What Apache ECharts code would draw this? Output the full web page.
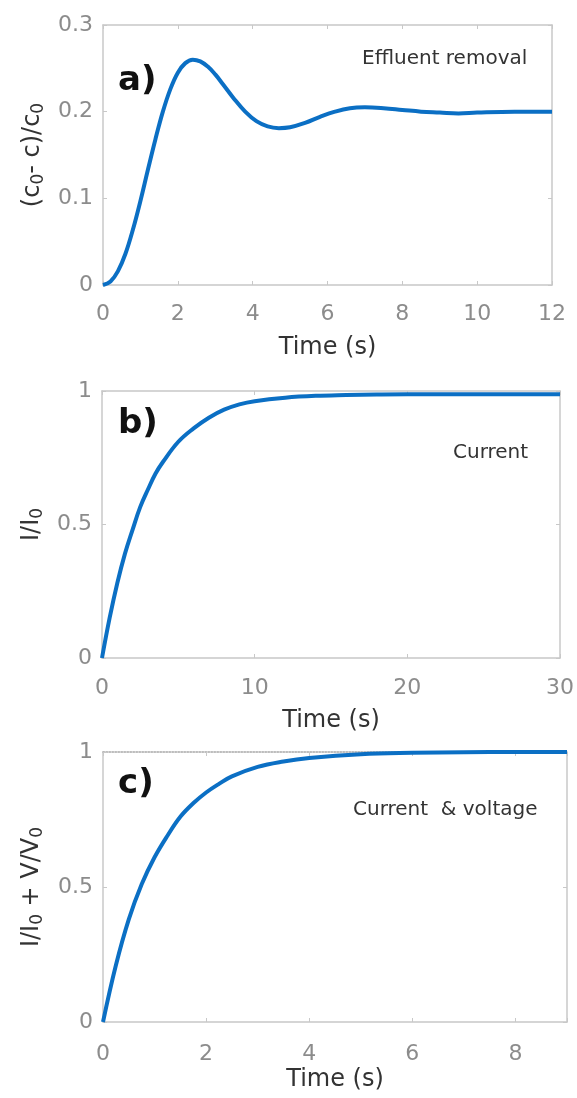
<!DOCTYPE html>
<html>
<head>
<meta charset="utf-8">
<script src="https://cdn.jsdelivr.net/npm/echarts@6/dist/echarts.min.js"></script>
<style>
html, body { margin: 0; padding: 0; background: #fff; }
#chart { width: 577px; height: 1098px; }
</style>
</head>
<body>
<div id="chart"></div>
<script>
// a) effluent removal, (c0 - c)/c0 vs time
const timeA = [0, 0.2, 0.4, 0.6, 0.8, 1.0, 1.2, 1.4, 1.6, 1.8, 2.0, 2.2, 2.4, 2.6, 2.8, 3.0, 3.2, 3.5, 3.8, 4.1, 4.4, 4.7, 5.0, 5.4, 5.8, 6.2, 6.6, 7.0, 7.5, 8.0, 8.5, 9.0, 9.5, 10, 11, 12]
const valueA = [0, 0.004, 0.016, 0.036, 0.064, 0.097, 0.133, 0.168, 0.2, 0.226, 0.245, 0.256, 0.26, 0.258, 0.252, 0.243, 0.232, 0.215, 0.2, 0.189, 0.183, 0.181, 0.182, 0.187, 0.194, 0.2, 0.204, 0.205, 0.204, 0.202, 0.2, 0.199, 0.198, 0.199, 0.2, 0.2]

// b) current, I/I0 vs time
const timeB = [0, 0.5, 1, 1.5, 2, 2.5, 3, 3.5, 4, 5, 6, 7, 8, 9, 10, 12, 14, 16, 18, 20, 25, 30]
const valueB = [0, 0.15, 0.28, 0.39, 0.48, 0.565, 0.63, 0.69, 0.735, 0.81, 0.86, 0.9, 0.93, 0.95, 0.962, 0.975, 0.982, 0.985, 0.987, 0.988, 0.988, 0.988]

// c) current & voltage, I/I0 + V/V0 vs time
const timeC = [0, 0.25, 0.5, 0.75, 1, 1.25, 1.5, 1.75, 2, 2.25, 2.5, 3, 3.5, 4, 5, 6, 7, 8, 9]
const valueC = [0, 0.21, 0.38, 0.51, 0.61, 0.69, 0.76, 0.81, 0.85, 0.882, 0.91, 0.945, 0.965, 0.978, 0.992, 0.997, 0.999, 1.0, 1.0]

// axis ranges [min, max, interval]
const xRanges = [[0, 12, 2], [0, 30, 10], [0, 9, 2]]
const yRanges = [[0, 0.3, 0.1], [0, 1, 0.5], [0, 1, 0.5]]
const yNames = ['(c{s|0}- c)/c{s|0}', 'I/I{s|0}', 'I/I{s|0} + V/V{s|0}']
const panelLabels = ['a)', 'b)', 'c)']
const notes = ['Effluent removal', 'Current', 'Current  & voltage']

const FONT = 'DejaVu Sans'
const BLUE = '#0b6fc4'
const BORDER = '#c8c8c8'
const TICKTEXT = '#8c8c8c'

const grids = [
  { left: 103, top: 25, width: 449, height: 260 },
  { left: 102, top: 391, width: 460, height: 267 },
  { left: 103, top: 752, width: 464, height: 270 }
]
const xNameGap = [51, 51, 46]
const xLabelMargin = [18, 19, 21]
const yNameGap = [55, 55, 57]
const notePos = [[362, 59], [453, 453], [353, 810]]
const labelPos = [[118, 81], [118, 424], [118, 784]]

const toPairs = (xs, ys) => xs.map((x, i) => [x, ys[i]])

const frameLine = (dotted) => ({
  show: true,
  onZero: false,
  lineStyle: { color: dotted ? '#a8a8a8' : BORDER, width: 1.5, type: dotted ? 'dotted' : 'solid' }
})
const innerTick = { show: true, inside: true, length: 4, lineStyle: { color: BORDER } }

const xAxis = []
const yAxis = []
grids.forEach((g, i) => {
  const [x0, x1, xi] = xRanges[i]
  const [y0, y1, yi] = yRanges[i]
  xAxis.push({
    type: 'value', gridIndex: i, position: 'bottom',
    min: x0, max: x1, interval: xi,
    name: 'Time (s)', nameLocation: 'middle', nameGap: xNameGap[i],
    nameTextStyle: { fontFamily: FONT, fontSize: 24, color: '#333' },
    axisLine: frameLine(false),
    axisTick: innerTick,
    axisLabel: {
      fontFamily: FONT, fontSize: 22, color: TICKTEXT, margin: xLabelMargin[i],
      formatter: v => (v % xi === 0 ? String(v) : '')
    },
    splitLine: { show: false }
  })
  xAxis.push({
    type: 'value', gridIndex: i, position: 'top',
    min: x0, max: x1, interval: xi,
    axisLine: frameLine(i === 2),
    axisTick: innerTick,
    axisLabel: { show: false },
    splitLine: { show: false }
  })
  yAxis.push({
    type: 'value', gridIndex: i, position: 'left',
    min: y0, max: y1, interval: yi,
    name: yNames[i], nameLocation: 'middle', nameGap: yNameGap[i],
    nameTextStyle: {
      fontFamily: FONT, fontSize: 24, color: '#333',
      rich: { s: { fontFamily: FONT, fontSize: 17, color: '#333', padding: [12, 0, 0, 0] } }
    },
    axisLine: frameLine(false),
    axisTick: innerTick,
    axisLabel: { fontFamily: FONT, fontSize: 22, color: TICKTEXT, margin: 10 },
    splitLine: { show: false }
  })
  yAxis.push({
    type: 'value', gridIndex: i, position: 'right',
    min: y0, max: y1, interval: yi,
    axisLine: frameLine(false),
    axisTick: innerTick,
    axisLabel: { show: false },
    splitLine: { show: false }
  })
})

const seriesData = [toPairs(timeA, valueA), toPairs(timeB, valueB), toPairs(timeC, valueC)]
const series = seriesData.map((d, i) => ({
  type: 'line',
  xAxisIndex: i * 2,
  yAxisIndex: i * 2,
  data: d,
  smooth: 0.4,
  showSymbol: false,
  clip: false,
  lineStyle: { color: BLUE, width: 4 },
  z: 5
}))

const graphic = []
panelLabels.forEach((t, i) => {
  graphic.push({
    type: 'text', x: labelPos[i][0], y: labelPos[i][1], z: 10,
    style: { text: t, fontFamily: FONT, fontWeight: 'bold', fontSize: 34, fill: '#111', verticalAlign: 'middle' }
  })
  graphic.push({
    type: 'text', x: notePos[i][0], y: notePos[i][1], z: 10,
    style: { text: notes[i], fontFamily: FONT, fontSize: 20, fill: '#333', verticalAlign: 'middle' }
  })
})

const myChart = echarts.init(document.getElementById('chart'))
const option = {
  backgroundColor: '#fff',
  animation: false,
  grid: grids,
  xAxis: xAxis,
  yAxis: yAxis,
  series: series,
  graphic: graphic
}
myChart.setOption(option)
</script>
</body>
</html>
